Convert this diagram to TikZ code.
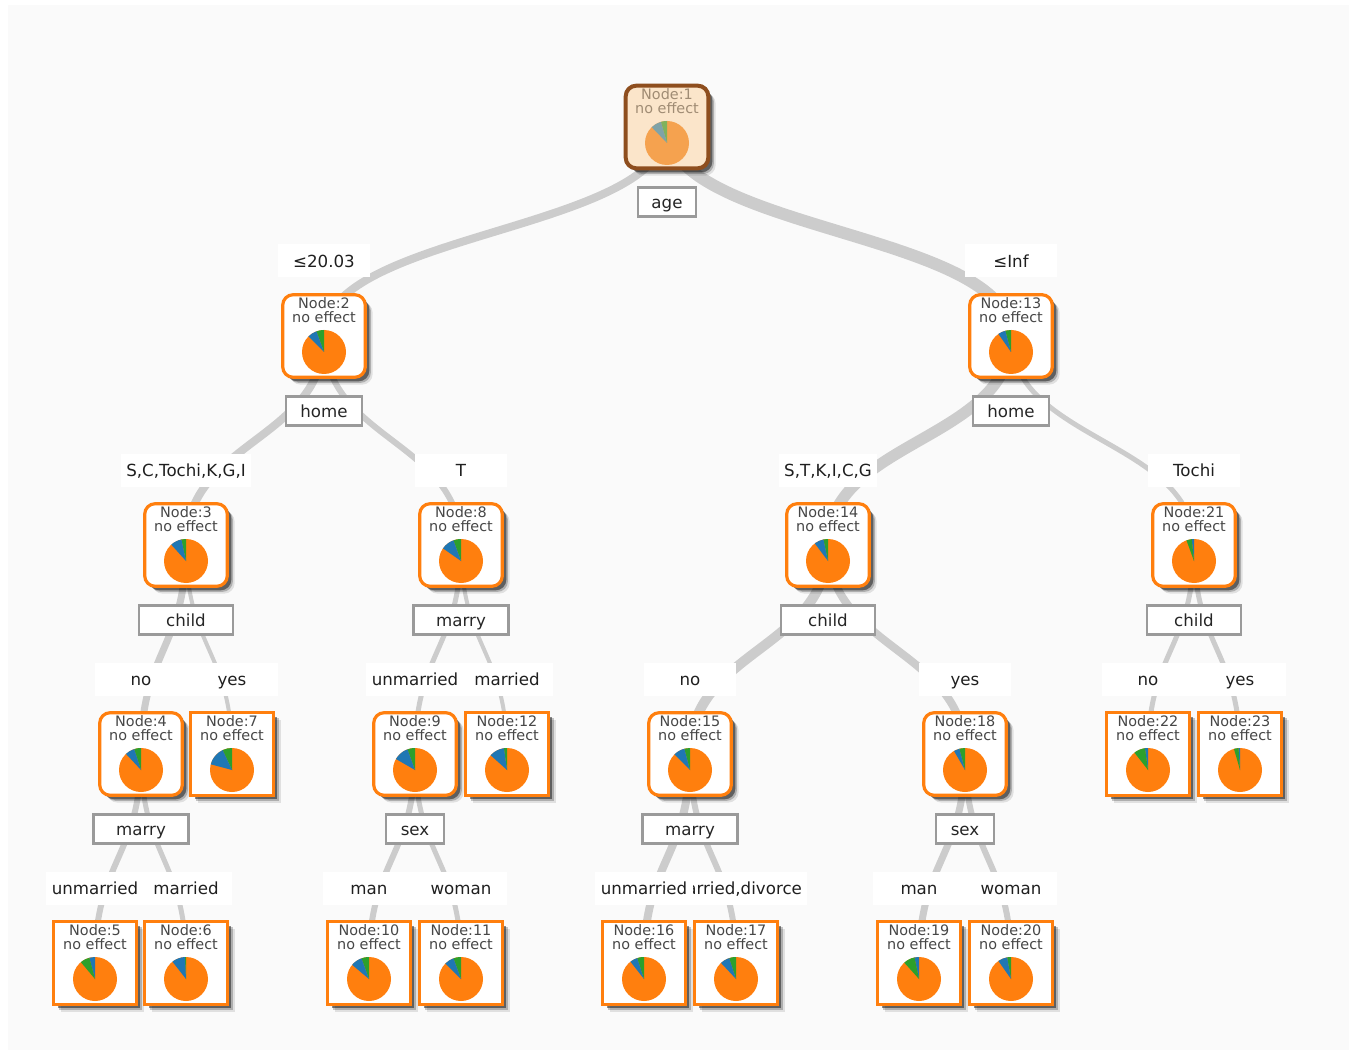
\documentclass[tikz,border=0pt]{standalone}
\usepackage{fontspec}
\setmainfont{DejaVu Sans}
\usetikzlibrary{calc,shadows}
\definecolor{cOr}{HTML}{FF7F0E}
\definecolor{cBl}{HTML}{1F77B4}
\definecolor{cGr}{HTML}{2CA02C}
\definecolor{eg}{HTML}{CCCCCC}
\definecolor{sb}{HTML}{9A9A9A}
\definecolor{bgc}{HTML}{FAFAFA}
\definecolor{rOr}{HTML}{F5A24F}
\definecolor{rTe}{HTML}{7FA3A8}
\definecolor{rGr}{HTML}{80B25C}
\definecolor{rFill}{HTML}{FBE5CA}
\definecolor{rBord}{HTML}{8E4E1E}
\definecolor{rTxt}{HTML}{A08C74}
\pgfdeclarelayer{edgelayer}
\pgfsetlayers{edgelayer,main}
\tikzset{
 nbase/.style={minimum width=62pt, minimum height=62pt, inner sep=0pt, fill=white,
   line width=2.4pt, draw=cOr,
   drop shadow={shadow xshift=5.5pt, shadow yshift=-5.5pt, opacity=0.10, fill=black},
   drop shadow={shadow xshift=4.2pt, shadow yshift=-4.2pt, opacity=0.22, fill=black},
   drop shadow={shadow xshift=3pt, shadow yshift=-3pt, opacity=0.45, fill=black}},
 inbox/.style={nbase, rounded corners=8pt},
 lfbox/.style={nbase},
 rootbox/.style={nbase, rounded corners=8pt, draw=rBord, fill=rFill, line width=3pt},
 ntext/.style={align=center, font=\fontsize{10.8}{10.5}\selectfont, text=black!72, inner sep=0pt},
 splitbox/.style={draw=sb, line width=2.2pt, fill=white, minimum height=21.75pt, inner sep=0pt,
   text height=10.8pt, text depth=1.2pt,
   text=black!85, font=\fontsize{12.5}{14}\selectfont},
 elab/.style={fill=white, minimum width=69pt, minimum height=24.75pt, inner xsep=4pt, inner ysep=0pt,
   text height=10.8pt, text depth=1.2pt,
   text=black!88, font=\fontsize{12.5}{14}\selectfont},
 edgeline/.style={draw=eg},
}
\newcommand{\tnode}[9]{%
 \node[#5] (#1) at (#2,#3) {};
 \node[ntext] at ([yshift=19.5pt]#1.center) {Node:#4\\no effect};
 \coordinate (#1p) at ([yshift=-12pt]#1.center);
 \fill[cOr] (#1p) circle[radius=16.5pt];
 \fill[#6] (#1p) -- ++(90:16.5pt) arc[start angle=90, end angle={90+#7}, radius=16.5pt] -- cycle;
 \fill[#8] (#1p) -- ++({90+#7}:16.5pt) arc[start angle={90+#7}, end angle={90+#7+#9}, radius=16.5pt] -- cycle;
}
\newcommand{\edg}[3]{%
 \begin{pgfonlayer}{edgelayer}
 \draw[edgeline, line width=#1] let \p1=(#2.center), \p2=(#3.center), \p3=($(#2.center)!0.5!(#3.center)$) in
   (#2.center) .. controls (\x1,\y3) and (\x2,\y3) .. (#3.center);
 \end{pgfonlayer}}
\begin{document}
\begin{tikzpicture}[x=0.75pt,y=-0.75pt]
\begin{pgfonlayer}{edgelayer}
\fill[white] (0,0) rectangle (1349,1055);
\fill[bgc] (8,5) rectangle (1349,1050);
\end{pgfonlayer}
\useasboundingbox (0,0) rectangle (1349,1055);

% edge labels
\node[elab] (l2) at (324,261) {≤20.03};
\node[elab] (l13) at (1011,261) {≤Inf};
\node[elab] (l3) at (186,470) {S,C,Tochi,K,G,I};
\node[elab] (l8) at (461,470) {T};
\node[elab] (l14) at (828,470) {S,T,K,I,C,G};
\node[elab] (l21) at (1194,470) {Tochi};
\node[elab] (l4) at (141,679) {no};
\node[elab] (l7) at (232,679) {yes};
\node[elab] (l9) at (415,679) {unmarried};
\node[elab] (l12) at (507,679) {married};
\node[elab] (l15) at (690,679) {no};
\node[elab] (l18) at (965,679) {yes};
\node[elab] (l22) at (1148,679) {no};
\node[elab] (l23) at (1240,679) {yes};
\node[elab] (l5) at (95,888) {unmarried};
\node[elab] (l6) at (186,888) {married};
\node[elab] (l10) at (369,888) {man};
\node[elab] (l11) at (461,888) {woman};
\node[elab] (l17) at (736,888) {married,divorce};
\node[elab] (l16) at (644,888) {unmarried};
\node[elab] (l19) at (919,888) {man};
\node[elab] (l20) at (1011,888) {woman};

% split boxes
\node[splitbox, minimum width=43.5pt] (s1) at (667,202) {age};
\node[splitbox, minimum width=57pt] (s2) at (324,411) {home};
\node[splitbox, minimum width=57pt] (s13) at (1011,411) {home};
\node[splitbox, minimum width=70.5pt] (s3) at (186,620) {child};
\node[splitbox, minimum width=71pt] (s8) at (461,620) {marry};
\node[splitbox, minimum width=70.5pt] (s14) at (828,620) {child};
\node[splitbox, minimum width=70.5pt] (s21) at (1194,620) {child};
\node[splitbox, minimum width=71pt] (s4) at (141,829) {marry};
\node[splitbox, minimum width=43.5pt] (s9) at (415,829) {sex};
\node[splitbox, minimum width=71pt] (s15) at (690,829) {marry};
\node[splitbox, minimum width=43.5pt] (s18) at (965,829) {sex};

% root node
\node[rootbox] (n1) at (667,127) {};
\node[ntext, text=rTxt] at ([yshift=19.5pt]n1.center) {Node:1\\no effect};
\coordinate (n1p) at ([yshift=-12pt]n1.center);
\fill[rOr] (n1p) circle[radius=16.5pt];
\fill[rGr] (n1p) -- ++(90:16.5pt) arc[start angle=90, end angle=106, radius=16.5pt] -- cycle;
\fill[rTe] (n1p) -- ++(106:16.5pt) arc[start angle=106, end angle=134, radius=16.5pt] -- cycle;

% tree nodes
\tnode{n2}{324}{336}{2}{inbox}{cGr}{20}{cBl}{25}
\tnode{n13}{1011}{336}{13}{inbox}{cGr}{15}{cBl}{20}
\tnode{n3}{186}{545}{3}{inbox}{cGr}{12}{cBl}{30}
\tnode{n8}{461}{545}{8}{inbox}{cGr}{20}{cBl}{35}
\tnode{n14}{828}{545}{14}{inbox}{cGr}{12}{cBl}{25}
\tnode{n21}{1194}{545}{21}{inbox}{cBl}{6}{cGr}{14}
\tnode{n4}{141}{754}{4}{inbox}{cGr}{18}{cBl}{25}
\tnode{n7}{232}{754}{7}{lfbox}{cGr}{25}{cBl}{50}
\tnode{n9}{415}{754}{9}{inbox}{cGr}{20}{cBl}{40}
\tnode{n12}{507}{754}{12}{lfbox}{cGr}{8}{cBl}{40}
\tnode{n15}{690}{754}{15}{inbox}{cGr}{15}{cBl}{30}
\tnode{n18}{965}{754}{18}{inbox}{cGr}{15}{cBl}{15}
\tnode{n22}{1148}{754}{22}{lfbox}{cBl}{8}{cGr}{30}
\tnode{n23}{1240}{754}{23}{lfbox}{cBl}{4}{cGr}{12}
\tnode{n5}{95}{963}{5}{lfbox}{cBl}{15}{cGr}{25}
\tnode{n6}{186}{963}{6}{lfbox}{cGr}{3}{cBl}{35}
\tnode{n10}{369}{963}{10}{lfbox}{cGr}{20}{cBl}{30}
\tnode{n11}{461}{963}{11}{lfbox}{cGr}{20}{cBl}{25}
\tnode{n16}{644}{963}{16}{lfbox}{cGr}{18}{cBl}{20}
\tnode{n17}{736}{963}{17}{lfbox}{cGr}{18}{cBl}{25}
\tnode{n19}{919}{963}{19}{lfbox}{cBl}{12}{cGr}{30}
\tnode{n20}{1011}{963}{20}{lfbox}{cGr}{10}{cBl}{25}

% edges
\edg{6pt}{n1}{n2}
\edg{9pt}{n1}{n13}
\edg{6pt}{n2}{n3}
\edg{4.5pt}{n2}{n8}
\edg{8.5pt}{n13}{n14}
\edg{3.75pt}{n13}{n21}
\edg{5.25pt}{n3}{n4}
\edg{3pt}{n3}{n7}
\edg{3.75pt}{n8}{n9}
\edg{3pt}{n8}{n12}
\edg{7.5pt}{n14}{n15}
\edg{6pt}{n14}{n18}
\edg{3.75pt}{n21}{n22}
\edg{3.75pt}{n21}{n23}
\edg{4.5pt}{n4}{n5}
\edg{3.75pt}{n4}{n6}
\edg{4.5pt}{n9}{n10}
\edg{3.75pt}{n9}{n11}
\edg{6pt}{n15}{n16}
\edg{4.5pt}{n15}{n17}
\edg{5.25pt}{n18}{n19}
\edg{4.5pt}{n18}{n20}
\end{tikzpicture}
\end{document}
